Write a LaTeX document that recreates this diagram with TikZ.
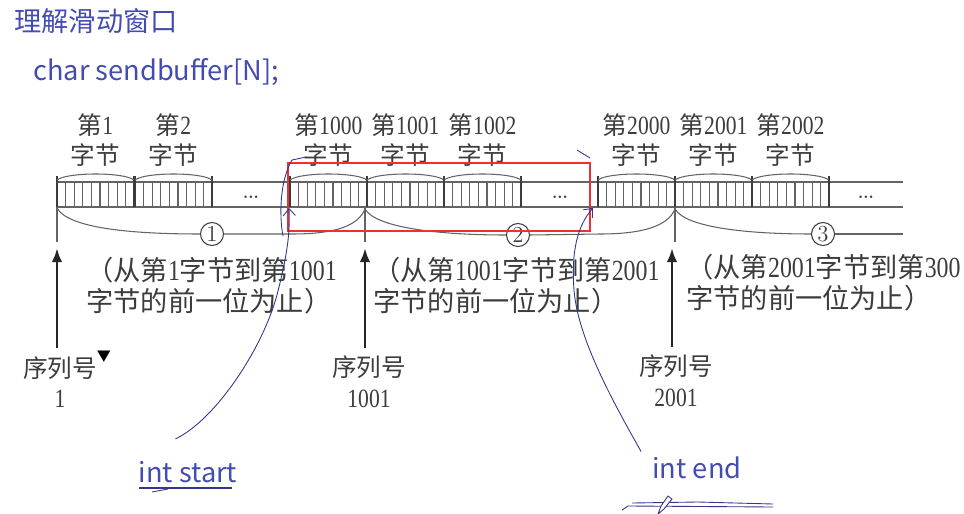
\documentclass[tikz,border=0pt]{standalone}
\usepackage{fontspec}
\usetikzlibrary{arrows.meta}
\newfontfamily\cjk{Noto Sans CJK SC}
\newfontfamily\chiffre[FakeStretch=0.82,Scale=1.07]{Liberation Serif}
\newcommand{\ch}[1]{{\chiffre #1}}
\definecolor{bleu}{RGB}{66,76,178}
\definecolor{encre}{RGB}{50,54,140}
\definecolor{gris}{RGB}{60,60,60}
\definecolor{rouge}{RGB}{238,48,48}
\tikzset{
  trait/.style={draw=gris!80, line width=0.6pt},
  bord/.style={draw=gris, line width=1.1pt},
  lbl/.style={font=\cjk\fontsize{14}{17.5}\selectfont, text=gris, align=center, inner sep=0pt},
  note/.style={lbl, font=\cjk\fontsize{15.5}{17.5}\selectfont, align=left, anchor=west},
  rond/.style={circle, draw=gris, line width=0.6pt, minimum size=0.46cm, inner sep=0pt,
    font=\fontsize{13}{13}\selectfont, text=gris},
  fleche/.style={draw=black!85, line width=1.6pt, -{Latex[length=8pt,width=6pt]}},
  plume/.style={draw=encre, line width=0.5pt},
  bleutxt/.style={font=\cjk\fontsize{15.5}{18}\selectfont, text=bleu, inner sep=0pt}
}
\begin{document}
\begin{tikzpicture}[x=0.02cm, y=-0.02cm]
  \useasboundingbox (0,0) rectangle (964,514);

  % Titre et declaration du tampon
  \node[bleutxt, anchor=west] (titre) at (14,21) {理解滑动窗口};
  \node[bleutxt, anchor=base west] (code) at (33,80) {char sendbu{}f{}fer[N];};

  % Bande des octets
  \draw[trait] (57,182) -- (903,182);
  \draw[trait] (57,207) -- (903,207);

  % Octets : traits, bords, arcs et etiquettes
  \foreach \a/\nom/\num in {57/o1/1, 135/o2/2, 290/oa/1000, 367/ob/1001, 444/oc/1002,
                            598/od/2000, 675/oe/2001, 752/of/2002} {
    \foreach \k in {1,...,8}
      \draw[trait] (\a+\k*8.6,182) -- (\a+\k*8.6,207);
    \draw[bord] (\a,176) -- (\a,207);
    \draw[bord] (\a+77,176) -- (\a+77,207);
    \draw[trait] (\a,180) .. controls (\a+10,172) and (\a+67,172) .. (\a+77,180);
    \node[lbl] (\nom) at (\a+38.5,140) {第\ch{\num}\\字节};
  }

  % Points de suspension
  \foreach \x/\nom in {251/g1, 560/g2, 866/g3}
    \node[lbl, font=\bfseries\fontsize{9}{9}\selectfont] (\nom) at (\x,197) {...};

  % Numeros entoures
  \node[rond] (c1) at (212,234) {1};
  \node[rond] (c2) at (518,235) {2};
  \node[rond] (c3) at (823,234) {3};

  % Accolades sous la bande
  \draw[trait] (57,208) .. controls (68,228) and (130,234) .. (c1.west);
  \draw[trait] (c1.east) -- (292,234) .. controls (335,234) and (358,226) .. (365,209);
  \draw[trait] (365,209) .. controls (376,228) and (440,235) .. (c2.west);
  \draw[trait] (c2.east) -- (600,234) .. controls (643,234) and (668,226) .. (675,209);
  \draw[trait] (675,209) .. controls (686,228) and (750,234) .. (c3.west);
  \draw[trait] (c3.east) -- (903,234);
  \foreach \x in {57,365,675}
    \draw[trait] (\x,207) -- (\x,242);

  % Plages de chaque segment
  \node[note] (n1) at (86,286) {（从第\ch{1}字节到第\ch{1001}\\字节的前一位为止）};
  \node[note] (n2) at (373,286) {（从第\ch{1001}字节到第\ch{2001}\\字节的前一位为止）};
  \node[note] (n3) at (686,283) {（从第\ch{2001}字节到第\ch{300}\\字节的前一位为止）};

  % Numeros de sequence et fleches
  \node[lbl] (q1) at (60,382) {序列号\\\ch{1}};
  \node[lbl, font=\cjk\fontsize{8}{8}\selectfont, text=black] (tri) at (104,357) {▼};
  \node[lbl] (q2) at (369,382) {序列号\\\ch{1001}};
  \node[lbl] (q3) at (676,381) {序列号\\\ch{2001}};
  \coordinate (t1) at (57,248);
  \coordinate (t2) at (365,248);
  \coordinate (t3) at (672,248);
  \draw[fleche] ([yshift=0.16cm]q1.north -| t1) -- (t1);
  \draw[fleche] ([yshift=0.16cm]q2.north -| t2) -- (t2);
  \draw[fleche] ([yshift=0.16cm]q3.north -| t3) -- (t3);

  % Fenetre en rouge
  \draw[rouge, line width=1.1pt] (288,163) rectangle (590,231);

  % Annotations a la main
  \node[bleutxt] (debut) at (188,472) {int start};
  \node[bleutxt] (fin) at (697,468) {int end};
  \coordinate (pd) at (289,208);
  \coordinate (pf) at (593,208);
  \draw[plume, -{Straight Barb[length=4pt,width=7pt]}]
    ([shift={(37,-22)}]debut.north west) .. controls (215,420) and (262,350) .. (277,295)
    .. controls (288,252) and (290,232) .. (pd);
  \draw[plume] (283,236) .. controls (279,215) and (280,180) .. (292,160) -- (306,157);
  \draw[plume, -{Straight Barb[length=4pt,width=7pt]}]
    ([shift={(-11,-5)}]fin.north west) .. controls (615,405) and (578,340) .. (574,290)
    .. controls (571,250) and (578,225) .. (pf);
  \draw[plume] (577,150) -- (590,158);

  % Soulignements
  \draw[plume, line width=0.8pt] (139,488) -- (232,488);
  \draw[plume] (152,492) -- (168,489);
  \draw[plume] (632,503) -- (698,502) -- (773,504);
  \draw[plume] (622,510) -- (628,506) -- (773,507);
  \draw[plume, fill=white] (658,514) -- (661,506) -- (668,496) -- (672,499) -- (664,509) -- cycle;
\end{tikzpicture}
\end{document}
